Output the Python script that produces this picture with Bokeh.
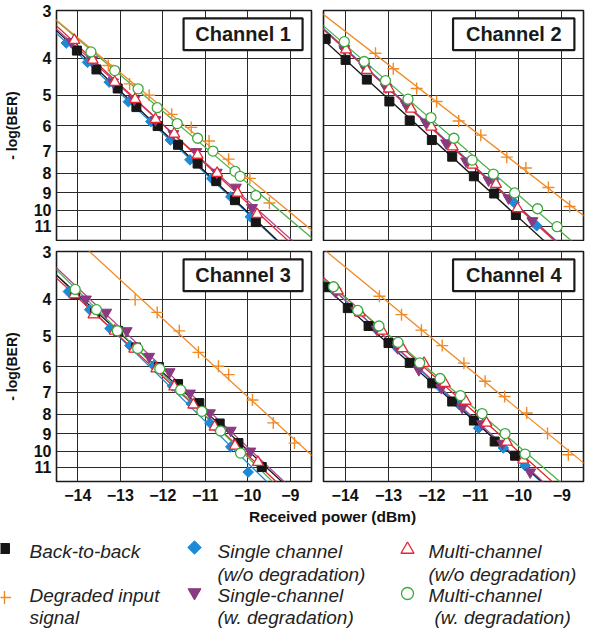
import numpy as np
from bokeh.plotting import figure
from bokeh.layouts import column, row
from bokeh.models import Range1d, FixedTicker, PrintfTickFormatter, BoxAnnotation, Label
from bokeh.embed import file_html
from bokeh.resources import INLINE
from bokeh.core.properties import value

# ---------------- data ----------------
x_ticks = [-14, -13, -12, -11, -10, -9]
y_ticks = [3, 4, 5, 6, 7, 8, 9, 10, 11]
channel_names = ["Channel 1", "Channel 2", "Channel 3", "Channel 4"]
x_label = "Received power (dBm)"
y_label = "- log(BER)"

# Channel 1
ch1_b2b_p = [-14.02, -13.56, -13.06, -12.62, -12.12, -11.64, -11.18, -10.74, -10.30, -9.81]
ch1_b2b_v = [3.82, 4.28, 4.80, 5.37, 6.02, 6.74, 7.55, 8.39, 9.41, 10.74]
ch1_single_p = [-14.27, -13.77, -13.26, -12.81, -12.28, -11.82, -11.36, -10.85, -10.40, -9.94]
ch1_single_v = [3.65, 4.10, 4.62, 5.20, 5.86, 6.55, 7.38, 8.26, 9.22, 10.40]
ch1_singdeg_p = [-14.15, -13.66, -13.17, -12.67, -12.17, -11.75, -11.21, -10.73, -10.28, -9.90]
ch1_singdeg_v = [3.62, 4.04, 4.62, 5.13, 5.80, 6.31, 7.03, 7.96, 8.71, 9.85]
ch1_multi_p = [-14.08, -13.65, -13.13, -12.65, -12.17, -11.73, -11.18, -10.72, -10.24, -9.78]
ch1_multi_v = [3.59, 4.04, 4.62, 5.12, 5.78, 6.31, 7.17, 8.00, 9.01, 10.25]
ch1_multideg_p = [-13.69, -13.13, -12.58, -12.13, -11.66, -11.18, -10.82, -10.30, -10.18, -9.81]
ch1_multideg_v = [3.85, 4.31, 4.81, 5.39, 5.93, 6.48, 7.00, 7.91, 8.15, 9.15]
ch1_degr_p = [-13.28, -12.78, -12.32, -11.79, -11.33, -10.91, -10.45, -9.95, -9.49]
ch1_degr_v = [4.18, 4.67, 5.00, 5.61, 6.07, 6.59, 7.35, 8.25, 9.57]

# Channel 2
ch2_b2b_p = [-14.45, -13.99, -13.50, -12.98, -12.51, -12.00, -11.53, -11.03, -10.56, -10.06]
ch2_b2b_v = [3.56, 4.04, 4.55, 5.19, 5.82, 6.55, 7.24, 8.15, 9.04, 10.29]
ch2_single_p = [-14.02, -13.52, -13.04, -12.55, -12.07, -11.60, -11.12, -10.57, -10.10, -9.58]
ch2_single_v = [3.76, 4.22, 4.74, 5.33, 5.96, 6.70, 7.50, 8.30, 9.55, 10.98]
ch2_singdeg_p = [-14.02, -13.56, -13.06, -12.60, -12.14, -11.67, -11.21, -10.69, -10.23, -9.68]
ch2_singdeg_v = [3.78, 4.20, 4.76, 5.28, 5.88, 6.67, 7.44, 8.34, 9.29, 10.66]
ch2_multi_p = [-13.98, -13.50, -12.99, -12.48, -12.01, -11.52, -11.06, -10.52, -10.02]
ch2_multi_v = [3.80, 4.30, 4.81, 5.43, 6.05, 6.82, 7.61, 8.55, 9.90]
ch2_multideg_p = [-14.02, -13.56, -13.07, -12.55, -12.02, -11.49, -11.07, -10.58, -10.09, -9.56, -9.11]
ch2_multideg_v = [3.62, 4.08, 4.58, 5.12, 5.72, 6.48, 7.39, 8.04, 9.01, 9.91, 11.04]
ch2_degr_p = [-13.30, -12.89, -12.35, -11.89, -11.38, -10.87, -10.27, -9.83, -9.31, -8.82]
ch2_degr_v = [3.88, 4.26, 4.80, 5.19, 5.84, 6.36, 7.26, 7.75, 8.72, 9.78]

# Channel 3
ch3_b2b_p = [-14.06, -13.59, -13.05, -12.63, -12.09, -11.64, -11.14, -10.66, -10.22, -9.67]
ch3_b2b_v = [3.88, 4.34, 4.84, 5.35, 6.02, 6.67, 7.48, 8.46, 9.52, 11.00]
ch3_single_p = [-14.22, -13.72, -13.24, -12.77, -12.21, -11.77, -11.33, -10.89, -10.40, -9.99]
ch3_single_v = [3.82, 4.26, 4.77, 5.29, 5.96, 6.75, 7.51, 8.43, 9.74, 11.34]
ch3_singdeg_p = [-13.81, -13.33, -12.85, -12.32, -11.84, -11.36, -10.89, -10.40, -9.94]
ch3_singdeg_v = [4.00, 4.33, 4.84, 5.65, 6.20, 7.05, 7.94, 8.82, 10.00]
ch3_multi_p = [-14.08, -13.63, -13.13, -12.67, -12.15, -11.73, -11.28, -10.78, -10.30, -9.76]
ch3_multi_v = [3.89, 4.39, 4.84, 5.40, 6.08, 6.78, 7.56, 8.63, 9.68, 10.68]
ch3_multideg_p = [-14.06, -13.56, -13.07, -12.59, -12.07, -11.58, -11.08, -10.64, -10.17]
ch3_multideg_v = [3.77, 4.26, 4.84, 5.38, 6.08, 6.91, 7.86, 8.85, 10.11]
ch3_degr_p = [-12.65, -12.13, -11.61, -11.16, -10.69, -10.45, -9.89, -9.40, -8.90]
ch3_degr_v = [4.01, 4.33, 4.84, 5.51, 5.99, 6.30, 7.34, 8.43, 9.52]

# Channel 4
ch4_b2b_p = [-14.45, -13.94, -13.46, -13.00, -12.51, -11.99, -11.53, -11.03, -10.55, -10.08]
ch4_b2b_v = [3.72, 4.22, 4.70, 5.21, 5.87, 6.64, 7.41, 8.31, 9.43, 10.27]
ch4_single_p = [-14.22, -13.74, -13.26, -12.78, -12.31, -11.82, -11.37, -10.92, -10.35, -9.85]
ch4_single_v = [3.84, 4.30, 4.82, 5.40, 6.02, 6.78, 7.55, 8.70, 9.80, 10.90]
ch4_singdeg_p = [-14.22, -13.75, -13.27, -12.79, -12.30, -11.78, -11.30, -10.84, -10.37, -9.73]
ch4_singdeg_v = [3.82, 4.28, 4.79, 5.35, 6.12, 6.82, 7.68, 8.48, 9.54, 11.34]
ch4_multi_p = [-14.17, -13.66, -13.15, -12.68, -12.18, -11.70, -11.22, -10.74, -10.27, -9.89]
ch4_multi_v = [3.80, 4.34, 4.84, 5.38, 5.88, 6.64, 7.39, 8.43, 9.45, 10.54]
ch4_multideg_p = [-14.27, -13.71, -13.22, -12.78, -12.28, -11.81, -11.34, -10.84, -10.31, -9.85]
ch4_multideg_v = [3.71, 4.28, 4.70, 5.19, 5.87, 6.45, 7.15, 7.97, 8.99, 10.17]
ch4_degr_p = [-13.21, -12.70, -12.24, -11.76, -11.26, -10.77, -10.32, -9.81, -9.33, -8.85]
ch4_degr_v = [3.93, 4.39, 4.82, 5.29, 5.88, 6.56, 7.19, 7.94, 8.98, 10.21]

series_keys = ["single", "b2b", "singdeg", "multi", "multideg", "degr"]
series_labels = {
    "b2b": ["Back-to-back"],
    "single": ["Single channel", "(w/o degradation)"],
    "multi": ["Multi-channel", "(w/o degradation)"],
    "degr": ["Degraded input", "signal"],
    "singdeg": ["Single-channel", "(w. degradation)"],
    "multideg": ["Multi-channel", "(w. degradation)"],
}

# ---------------- styles ----------------
FONT = "Liberation Sans"
styles = {
    "b2b": dict(marker="square", size=9, angle=0.0, fill_color="#161616", line_color="#161616", line_width=1, lc="#161616"),
    "single": dict(marker="square", size=7.5, angle=np.pi / 4, fill_color="#1e8ad6", line_color="#1e8ad6", line_width=1, lc="#1e8ad6"),
    "singdeg": dict(marker="inverted_triangle", size=11, angle=0.0, fill_color="#8a3a80", line_color="#8a3a80", line_width=1, lc="#b5458c"),
    "multi": dict(marker="triangle", size=11, angle=0.0, fill_color="white", line_color="#e3262f", line_width=1.3, lc="#e3262f"),
    "multideg": dict(marker="circle", size=10, angle=0.0, fill_color="white", line_color="#3ea83e", line_width=1.3, lc="#4fb04a"),
    "degr": dict(marker="cross", size=12, angle=0.0, fill_color=None, line_color="#f08a26", line_width=1.4, lc="#f08a26"),
}
legend_sizes = {"b2b": 10, "single": 9.5, "singdeg": 13, "multi": 13, "multideg": 12, "degr": 13}

g = globals()
XR = (-14.5, -8.5)
YR = (12, 3)


def make_panel(idx, left, top):
    ch = "ch%d" % (idx + 1)
    frame_w = 259 if left else 260
    frame_h = 230
    mbl = 52 if left else 7
    mbr = 5 if left else 2
    mbt = 10
    mbb = 1 if top else 26
    p = figure(width=mbl + frame_w + mbr, height=mbt + frame_h + mbb,
               x_range=Range1d(*XR), y_range=Range1d(*YR), y_axis_type="log",
               output_backend="svg", toolbar_location=None,
               min_border_left=mbl, min_border_right=mbr,
               min_border_top=mbt, min_border_bottom=mbb)
    p.background_fill_color = "white"
    p.border_fill_color = "white"
    p.outline_line_color = "#1a1a1a"
    p.outline_line_width = 1.6
    p.outline_line_alpha = 1

    p.xaxis.ticker = FixedTicker(ticks=x_ticks, minor_ticks=[])
    p.yaxis.ticker = FixedTicker(ticks=y_ticks, minor_ticks=[])
    p.yaxis.formatter = PrintfTickFormatter(format="%d")
    p.xgrid.ticker = FixedTicker(ticks=x_ticks, minor_ticks=[])
    p.ygrid.ticker = FixedTicker(ticks=y_ticks, minor_ticks=[])
    p.grid.grid_line_color = "#2a2a2a"
    p.grid.grid_line_width = 1
    p.grid.grid_line_alpha = 1
    for ax in p.axis:
        ax.axis_line_color = None
        ax.major_tick_line_color = None
        ax.minor_tick_line_color = None
        ax.major_tick_out = 0
        ax.major_tick_in = 0
        ax.major_label_text_font = FONT
        ax.major_label_text_font_style = "bold"
        ax.major_label_text_font_size = "16px"
        ax.major_label_text_color = "#111111"
    p.yaxis.major_label_standoff = 5
    p.xaxis.major_label_standoff = 7
    if left:
        p.yaxis.axis_label = y_label
        p.yaxis.axis_label_text_font = FONT
        p.yaxis.axis_label_text_font_style = "bold"
        p.yaxis.axis_label_text_font_size = "14px"
        p.yaxis.axis_label_text_color = "#111111"
        p.yaxis.axis_label_standoff = 11
    else:
        p.yaxis.visible = False
    if top:
        p.xaxis.visible = False

    # fitted lines (straight in power vs log(-log BER))
    xs = np.array([XR[0] - 0.2, XR[1] + 0.2])
    for key in series_keys:
        pw = np.array(g["%s_%s_p" % (ch, key)])
        vv = np.array(g["%s_%s_v" % (ch, key)])
        a, b = np.polyfit(pw, np.log10(vv), 1)
        p.line(xs, 10 ** (a * xs + b), line_color=styles[key]["lc"], line_width=1.3)
    for key in series_keys:
        st = styles[key]
        p.scatter(g["%s_%s_p" % (ch, key)], g["%s_%s_v" % (ch, key)], marker=st["marker"],
                  size=st["size"], angle=st["angle"], fill_color=st["fill_color"],
                  line_color=st["line_color"], line_width=st["line_width"])

    # channel box
    p.add_layout(BoxAnnotation(left=-11.51, right=-8.71, top=3.145, bottom=3.81,
                               fill_color="white", fill_alpha=1, line_color="#1a1a1a",
                               line_width=2.2, line_alpha=1))
    p.add_layout(Label(x=-10.11, y=3.462, text=channel_names[idx], text_align="center",
                       text_baseline="middle", text_font=FONT, text_font_style="bold",
                       text_font_size="20px", text_color="#1a1a1a"))
    return p


p1 = make_panel(0, True, True)
p2 = make_panel(1, False, True)
p3 = make_panel(2, True, False)
p4 = make_panel(3, False, False)

# ---------------- legend / x label area ----------------
LW, LH = 585, 121
lg = figure(width=LW, height=LH, x_range=Range1d(0, LW), y_range=Range1d(LH, 0),
            output_backend="svg", toolbar_location=None, min_border=0)
lg.axis.visible = False
lg.grid.visible = False
lg.outline_line_color = None
lg.background_fill_color = "white"
lg.border_fill_color = "white"

lg.text(x=[332], y=[9], text=[x_label], text_font=value(FONT), text_font_style="bold",
        text_font_size="15.5px", text_align="center", text_baseline="middle", text_color="#111111")

# (marker x, marker y, text x, first text line y)
legend_pos = {
    "b2b": (4, 41, 29, 44),
    "single": (194, 40, 217, 44),
    "multi": (407, 42, 428, 44),
    "degr": (4, 90, 29, 88),
    "singdeg": (194, 85, 217, 88),
    "multideg": (407, 86, 428, 88),
}
second_line = {44: 67, 88: 110}
for key, (mx, my, tx, ty) in legend_pos.items():
    st = styles[key]
    lg.scatter([mx], [my], marker=st["marker"], size=legend_sizes[key], angle=st["angle"],
               fill_color=st["fill_color"], line_color=st["line_color"], line_width=st["line_width"])
    lines = series_labels[key]
    ys = [ty, second_line[ty]][:len(lines)]
    txs = [tx, tx + 6 if key == "multideg" else tx][:len(lines)]
    lg.text(x=txs, y=ys, text=lines, text_font=value(FONT), text_font_style="italic",
            text_font_size="19px", text_align="left", text_baseline="middle", text_color="#222222")

layout = column(row(p1, p2, spacing=0), row(p3, p4, spacing=0), lg, spacing=0)
open("out.html", "w").write(file_html(layout, INLINE))
